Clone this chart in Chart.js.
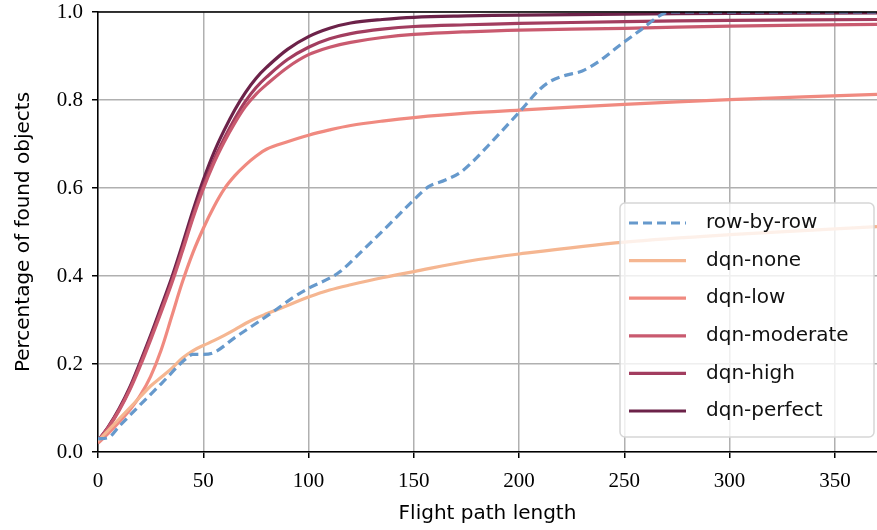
<!DOCTYPE html>
<html>
<head>
<meta charset="utf-8">
<script src="https://cdn.jsdelivr.net/npm/chart.js@4.4.1/dist/chart.umd.min.js"></script>
<style>
    html, body { margin: 0; padding: 0; background: #fff; }
    #wrap { width: 877px; height: 530px; }
</style>
</head>
<body>
<div id="wrap"><canvas id="lineChart" width="877" height="530"></canvas></div>
<script>
/* ------------------ DATA ------------------ */
const seriesNames = ['row-by-row', 'dqn-none', 'dqn-low', 'dqn-moderate', 'dqn-high', 'dqn-perfect'];

const rowByRowX = [0, 5, 10, 20, 30, 43, 45, 50, 55, 65, 75, 85, 93, 100, 110, 115, 125, 140, 150, 157,
    165, 172, 178, 188, 200, 210, 215, 222, 230, 238, 248, 258, 268, 272, 370];
const rowByRowY = [0.03, 0.033, 0.058, 0.107, 0.155, 0.217, 0.222, 0.222, 0.226, 0.26, 0.292, 0.325, 0.352, 0.372, 0.395, 0.41, 0.455, 0.525, 0.573, 0.603,
    0.618, 0.635, 0.66, 0.71, 0.772, 0.825, 0.843, 0.856, 0.866, 0.888, 0.925, 0.96, 0.995, 1.0, 1.0];

const dqnX = [0, 5, 10, 15, 20, 25, 30, 35, 40, 45, 50, 55, 60, 65, 70, 75, 80, 90, 100, 110, 120, 135, 150, 175, 200, 250, 300, 370];

const dqnNone = [0.025, 0.05, 0.075, 0.1, 0.125, 0.15, 0.17, 0.19, 0.213, 0.23, 0.242, 0.253, 0.265, 0.278, 0.292, 0.304, 0.314, 0.333,
    0.352, 0.368, 0.38, 0.396, 0.41, 0.433, 0.45, 0.477, 0.494, 0.512];
const dqnLow = [0.02, 0.043, 0.068, 0.095, 0.128, 0.172, 0.232, 0.308, 0.385, 0.452, 0.508, 0.557, 0.598, 0.628, 0.652, 0.672, 0.688, 0.705,
    0.72, 0.732, 0.742, 0.752, 0.76, 0.77, 0.777, 0.79, 0.801, 0.813];
const dqnModerate = [0.025, 0.056, 0.094, 0.14, 0.195, 0.255, 0.318, 0.383, 0.455, 0.53, 0.598, 0.656, 0.705, 0.748, 0.785, 0.813, 0.835, 0.874,
    0.903, 0.92, 0.931, 0.942, 0.949, 0.955, 0.959, 0.963, 0.968, 0.972];
const dqnHigh = [0.025, 0.057, 0.096, 0.143, 0.2, 0.26, 0.323, 0.388, 0.46, 0.536, 0.604, 0.663, 0.713, 0.758, 0.797, 0.828, 0.852, 0.892,
    0.92, 0.939, 0.951, 0.961, 0.967, 0.971, 0.974, 0.978, 0.981, 0.983];
const dqnPerfect = [0.025, 0.058, 0.098, 0.146, 0.204, 0.265, 0.33, 0.396, 0.47, 0.547, 0.618, 0.68, 0.732, 0.778, 0.817, 0.849, 0.874, 0.915,
    0.944, 0.963, 0.975, 0.983, 0.988, 0.991, 0.993, 0.995, 0.997, 0.998];

const xTicks = [0, 50, 100, 150, 200, 250, 300, 350];
const yTicks = [0.0, 0.2, 0.4, 0.6, 0.8, 1.0];

const colors = ['#6699cc', '#f5b691', '#f08a80', '#c95a6f', '#a23d5f', '#6c2249'];

/* ------------------ HELPERS ------------------ */
const toPoints = (xs, ys) => xs.map((x, i) => ({ x: x, y: ys[i] }));

const SERIF = '"Liberation Serif", "DejaVu Serif", serif';
const SANS = '"DejaVu Sans", sans-serif';

// legend drawn inside the plot, bottom right, like the original
const insideLegend = {
    id: 'insideLegend',
    afterDatasetsDraw(chart) {
        const ctx = chart.ctx;
        const area = chart.chartArea;
        const x0 = 620, y0 = 203, w = 254, h = 234;
        ctx.save();
        ctx.beginPath();
        ctx.roundRect(x0, y0, w, h, 5);
        ctx.fillStyle = 'rgba(255,255,255,0.8)';
        ctx.fill();
        ctx.lineWidth = 1.5;
        ctx.strokeStyle = '#d6d6d6';
        ctx.stroke();

        ctx.font = '20px ' + SANS;
        ctx.textBaseline = 'middle';
        chart.data.datasets.forEach((ds, i) => {
            const yy = y0 + 20 + i * 37.6;
            ctx.beginPath();
            ctx.setLineDash(ds.borderDash || []);
            ctx.lineWidth = ds.borderWidth;
            ctx.strokeStyle = ds.borderColor;
            ctx.moveTo(x0 + 9, yy);
            ctx.lineTo(x0 + 66, yy);
            ctx.stroke();
            ctx.setLineDash([]);
            ctx.fillStyle = '#111';
            ctx.fillText(ds.label, x0 + 86, yy);
        });

        // top frame line
        ctx.beginPath();
        ctx.lineWidth = 1.5;
        ctx.strokeStyle = '#000';
        ctx.moveTo(area.left, area.top);
        ctx.lineTo(area.right, area.top);
        ctx.stroke();
        ctx.restore();
    }
};

/* ------------------ CHART ------------------ */
const seriesData = [
    toPoints(rowByRowX, rowByRowY),
    toPoints(dqnX, dqnNone),
    toPoints(dqnX, dqnLow),
    toPoints(dqnX, dqnModerate),
    toPoints(dqnX, dqnHigh),
    toPoints(dqnX, dqnPerfect)
];

new Chart(document.getElementById('lineChart').getContext('2d'), {
    type: 'line',
    data: {
        datasets: seriesNames.map((name, i) => ({
            label: name,
            data: seriesData[i],
            borderColor: colors[i],
            backgroundColor: colors[i],
            borderWidth: 3.2,
            borderDash: i === 0 ? [9, 5] : [],
            pointRadius: 0,
            fill: false,
            cubicInterpolationMode: i === 0 ? 'monotone' : 'default',
            tension: 0.35
        }))
    },
    options: {
        responsive: false,
        animation: false,
        layout: { padding: { top: 12, right: 0, left: 0, bottom: 0 } },
        plugins: {
            legend: { display: false },
            tooltip: { enabled: false }
        },
        scales: {
            x: {
                type: 'linear',
                min: 0,
                max: 370,
                afterFit: s => { s.height = 78; s.paddingLeft = 0; s.paddingRight = 0; },
                afterBuildTicks: s => { s.ticks = xTicks.map(v => ({ value: v })); },
                ticks: {
                    font: { family: SERIF, size: 21 },
                    color: '#000',
                    padding: 11,
                    includeBounds: false
                },
                grid: {
                    color: '#b0b0b0',
                    lineWidth: 1.5,
                    tickColor: '#000',
                    tickLength: 6,
                    tickWidth: 1.5
                },
                border: { color: '#000', width: 1.5 },
                title: {
                    display: true,
                    text: 'Flight path length',
                    font: { family: SANS, size: 20 },
                    color: '#000',
                    padding: { top: 2, bottom: 4 }
                }
            },
            y: {
                min: 0,
                max: 1,
                afterFit: s => { s.width = 98; s.paddingTop = 0; s.paddingBottom = 0; },
                afterBuildTicks: s => { s.ticks = yTicks.map(v => ({ value: v })); },
                ticks: {
                    font: { family: SERIF, size: 21 },
                    color: '#000',
                    padding: 9,
                    callback: v => v.toFixed(1)
                },
                grid: {
                    color: '#b0b0b0',
                    lineWidth: 1.5,
                    tickColor: '#000',
                    tickLength: 6,
                    tickWidth: 1.5
                },
                border: { color: '#000', width: 1.5 },
                title: {
                    display: true,
                    text: 'Percentage of found objects',
                    font: { family: SANS, size: 20 },
                    color: '#000',
                    padding: { top: 12, bottom: 0 }
                }
            }
        }
    },
    plugins: [insideLegend]
});
</script>
</body>
</html>
